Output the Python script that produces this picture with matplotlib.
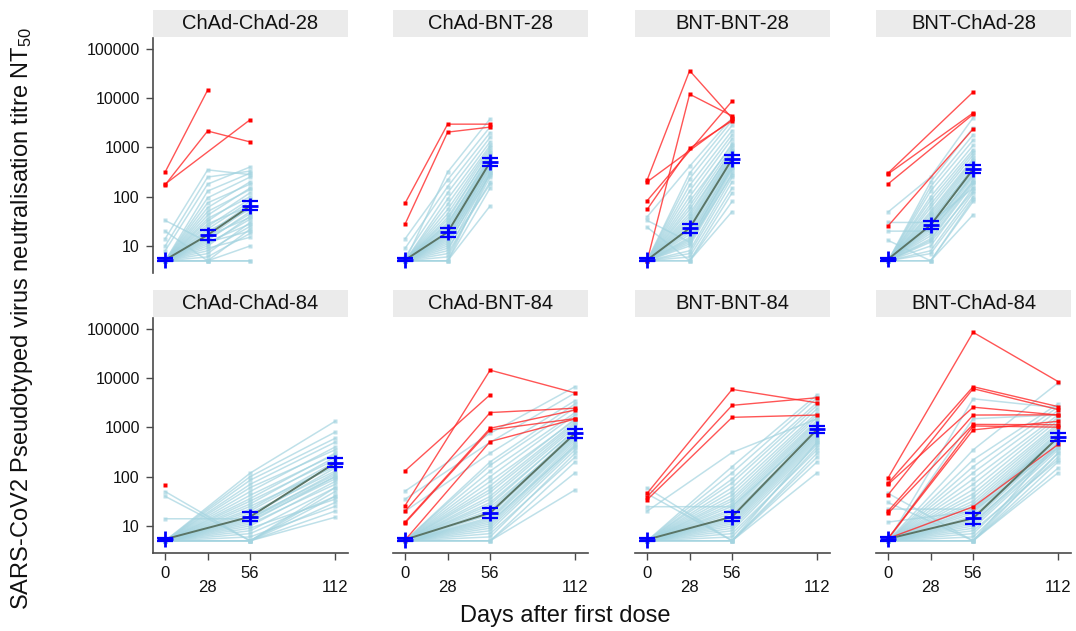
import numpy as np
import matplotlib
matplotlib.use('Agg')
import matplotlib.pyplot as plt

plt.rcParams['font.family'] = ['Liberation Sans', 'DejaVu Sans']
plt.rcParams['mathtext.fontset'] = 'custom'
plt.rcParams['mathtext.rm'] = 'Liberation Sans'
plt.rcParams['mathtext.default'] = 'rm'

nan = np.nan

# ---------------- data ----------------
panel_titles = ['ChAd-ChAd-28', 'ChAd-BNT-28', 'BNT-BNT-28', 'BNT-ChAd-28',
                'ChAd-ChAd-84', 'ChAd-BNT-84', 'BNT-BNT-84', 'BNT-ChAd-84']
days_28 = [0, 28, 56]
days_84 = [0, 56, 112]
x_ticks = [0, 28, 56, 112]
x_tick_labels = ['0', '\n28', '56', '\n112']
y_ticks = [10, 100, 1000, 10000, 100000]
y_tick_labels = ['10', '100', '1000', '10000', '100000']

# light-blue individual participants (no prior infection)
cc28_d0 = [5,5,5,5,5,5,5,5,5,5, 5,5,5,5,5,5,5,5,5,5, 5,5,5,5,5,5,5,8,10,14, 20,33]
cc28_d1 = [5,5,5,6,7,8,9,10,11,12, 13,14,15,16,18,20,22,25,28,32, 36,42,50,60,75,95,130,180,250,350, 5,12]
cc28_d2 = [10,5,22,18,30,25,15,40,35,28, 50,45,60,38,70,55,80,90,65,120, 100,150,140,200,180,250,300,400,330,280, 5,20]

cb28_d0 = [5,5,5,5,5,5,5,5,5,5, 5,5,5,5,5,5,5,5,5,5, 5,5,5,5,5,5,5,6,9,14, 5,5]
cb28_d1 = [5,5,6,7,8,9,10,11,12,13, 14,15,16,17,18,20,22,24,26,28, 30,34,38,45,55,70,90,120,160,220, 5,315]
cb28_d2 = [150,65,250,200,300,180,350,280,400,320, 450,380,500,420,550,480,600,520,650,700, 580,800,750,900,1000,1100,1300,1600,2000,2600, 300,3800]

bb28_d0 = [5,5,5,5,5,5,5,5,5,5, 5,5,5,5,5,5,5,5,5,5, 5,5,5,5,5,5,5,5,5,24, 33,39]
bb28_d1 = [5,5,6,7,8,10,11,12,13,14, 15,17,19,21,23,25,28,31,35,40, 46,55,65,80,100,130,170,230,300,5, 12,415]
bb28_d2 = [80,50,150,200,250,300,350,280,420,380, 480,450,520,600,560,650,700,750,800,900, 850,1000,1200,1100,1500,1800,2200,2800,3500,120, 400,4000]

bc28_d0 = [5,5,5,5,5,5,5,5,5,5, 5,5,5,5,5,5,5,5,5,5, 5,5,5,5,5,5,5,5,13,20, 30,49]
bc28_d1 = [5,5,7,8,10,12,13,14,16,18, 20,22,24,26,28,30,33,36,40,45, 50,60,70,85,100,130,160,200,5,20, 30,250]
bc28_d2 = [43,80,100,120,150,130,180,200,220,250, 280,300,270,350,320,400,380,450,500,550, 600,700,800,900,1100,1400,1800,2500,90,200, 150,4000]

cc84_d0 = [5,5,5,5,5,5,5,5,5,5, 5,5,5,5,5,5,5,5,5,5, 5,5,5,5,5,5,5,5,5,14, 40,50]
cc84_d1 = [5,5,5,5,6,7,8,9,10,11, 12,13,14,15,16,18,20,22,25,28, 32,36,42,50,60,70,85,100,118,14, 5,5]
cc84_d2 = [15,20,30,50,25,40,60,35,80,70, 100,90,120,110,150,130,180,200,160,250, 220,300,280,400,350,500,600,800,1330,100, 60,40]

cb84_d0 = [5,5,5,5,5,5,5,5,5,5, 5,5,5,5,5,5,5,5,5,5, 5,5,5,5,5,5,5,5,5,20, 35,51]
cb84_d1 = [5,5,5,6,7,8,9,10,11,12, 13,14,15,17,19,21,24,27,30,35, 40,48,55,65,80,100,130,170,200,300, 500,760]
cb84_d2 = [54,120,200,300,250,350,400,450,500,420, 550,600,650,700,750,800,700,900,850,1000, 1100,1200,1300,1500,1400,1800,2000,2500,3000,3500, 5000,6700]

bb84_d0 = [5,5,5,5,5,5,5,5,5,5, 5,5,5,5,5,5,5,5,5,5, 5,5,5,5,5,5,5,5,24.6,45, 59,20]
bb84_d1 = [5,5,5,6,7,8,9,10,11,12, 13,14,15,16,18,20,22,25,28,32, 36,42,50,60,75,90,120,160,24.6,5, 5,310]
bb84_d2 = [120,200,300,400,350,450,500,550,600,650, 700,800,750,900,850,1000,1100,1200,1300,1400, 1600,1800,2000,2400,2800,3200,4000,4600,900,250, 500,1500]

bc84_d0 = [5,5,5,5,5,5,5,5,5,5, 5,5,5,5,5,5,5,5,5,5, 5,5,5,5,5,5,5,5,5,5, 12,22,30,46]
bc84_d1 = [5,5,5,6,7,8,9,10,11,12, 13,14,16,18,20,22,25,28,32,38, 45,55,70,90,120,160,220,350,3800,1500, 20,22,5,5]
bc84_d2 = [120,150,200,250,300,220,350,400,450,380, 500,550,600,650,700,750,800,900,1000,1100, 1200,1400,1600,1800,2200,2600,3000,8000,2500,1800, 400,600,500,300]

# red participants (prior infection); nan = no sample at that visit
cc28_red = [[316, 14500, nan], [174, 2150, 1290], [180, nan, 3640]]
cb28_red = [[74, 2960, 2960], [28, 2040, 2580]]
bb28_red = [[218, 36000, 3900], [5, 12000, 4350], [83, nan, 8700], [55, 960, 3470], [200, nan, 3700]]
bc28_red = [[302, nan, 13300], [290, nan, 5000], [182, nan, 4700], [25.6, nan, 2360]]
cc84_red = [[68, nan, nan]]
cb84_red = [[132, 4600, nan], [26, 14500, 5000], [20, 2000, 2450], [12, 960, 2250],
            [11.5, 890, 1510], [5.2, 515, 1480]]
bb84_red = [[46, 5900, 3150], [39, 2800, 4000], [34, 1600, 1780]]
bc84_red = [[95, 85000, 8500], [74, 6700, 2640], [43, 6100, 2300], [70, 2570, 1780],
            [20, 1780, 1800], [18, 1150, 1130], [5.6, 1070, 1010], [5.6, 890, 1330],
            [5.6, 24.5, 450]]

# geometric means with 95% CI
cc28_gm = [5.2, 16.7, 65];  cc28_lo = [4.9, 13.5, 53];  cc28_hi = [5.6, 21, 80]
cb28_gm = [5.2, 19, 505];   cb28_lo = [4.9, 15.5, 420]; cb28_hi = [5.6, 23.5, 610]
bb28_gm = [5.2, 23, 580];   bb28_lo = [4.9, 18.5, 490]; bb28_hi = [5.6, 28.5, 690]
bc28_gm = [5.4, 26.5, 360]; bc28_lo = [5.0, 22, 300];   bc28_hi = [5.8, 32, 430]
cc84_gm = [5.4, 15.4, 190]; cc84_lo = [5.0, 12.5, 155]; cc84_hi = [5.8, 19, 235]
cb84_gm = [5.3, 18.4, 760]; cb84_lo = [4.9, 14.5, 620]; cb84_hi = [5.7, 23, 930]
bb84_gm = [5.3, 15.4, 910]; bb84_lo = [4.9, 12.5, 770]; bb84_hi = [5.7, 19, 1080]
bc84_gm = [5.5, 14.3, 630]; bc84_lo = [5.0, 11, 520];   bc84_hi = [6.0, 18.5, 760]

panels = [
    (days_28, (cc28_d0, cc28_d1, cc28_d2), cc28_red, cc28_gm, cc28_lo, cc28_hi),
    (days_28, (cb28_d0, cb28_d1, cb28_d2), cb28_red, cb28_gm, cb28_lo, cb28_hi),
    (days_28, (bb28_d0, bb28_d1, bb28_d2), bb28_red, bb28_gm, bb28_lo, bb28_hi),
    (days_28, (bc28_d0, bc28_d1, bc28_d2), bc28_red, bc28_gm, bc28_lo, bc28_hi),
    (days_84, (cc84_d0, cc84_d1, cc84_d2), cc84_red, cc84_gm, cc84_lo, cc84_hi),
    (days_84, (cb84_d0, cb84_d1, cb84_d2), cb84_red, cb84_gm, cb84_lo, cb84_hi),
    (days_84, (bb84_d0, bb84_d1, bb84_d2), bb84_red, bb84_gm, bb84_lo, bb84_hi),
    (days_84, (bc84_d0, bc84_d1, bc84_d2), bc84_red, bc84_gm, bc84_lo, bc84_hi),
]

# ---------------- layout ----------------
W, H = 1076, 631
fig = plt.figure(figsize=(W / 100, H / 100), dpi=100)
col_left = [153, 393, 635, 876]
row_top = [38, 318]
ax_w, ax_h, strip_h = 195, 235, 28

LB = '#a4d4e0'
RED = '#ff2a2a'
BLUE = '#0000ff'
SPINE = '#4a4a4a'

for idx, (days, blue, red, gm, lo, hi) in enumerate(panels):
    r, c = divmod(idx, 4)
    l, t = col_left[c], row_top[r]
    ax = fig.add_axes([l / W, 1 - (t + ax_h) / H, ax_w / W, ax_h / H])
    st = fig.add_axes([l / W, 1 - (t - 1) / H, ax_w / W, (strip_h - 1) / H])
    st.set_facecolor('#ebebeb')
    st.set_xticks([]); st.set_yticks([])
    for s in st.spines.values():
        s.set_visible(False)
    st.text(0.5, 0.5, panel_titles[idx], ha='center', va='center',
            fontsize=14.5, color='#111111', transform=st.transAxes)

    d0, d1, d2 = blue
    for a, b, cc in zip(d0, d1, d2):
        ax.plot(days, [a, b, cc], color=LB, lw=1.1, alpha=0.7,
                marker='s', ms=2.5, mec='none', zorder=1)

    for row in red:
        xs = [d for d, v in zip(days, row) if not np.isnan(v)]
        ys = [v for v in row if not np.isnan(v)]
        ax.plot(xs, ys, color=RED, lw=1.0, alpha=0.8, zorder=3)
        ax.plot(xs, ys, ls='none', marker='s', ms=3.2, color='#ff0000',
                mec='none', zorder=4)

    gm_a = np.array(gm); lo_a = np.array(lo); hi_a = np.array(hi)
    ax.plot(days, gm_a, color='#5a7566', lw=1.4, zorder=5)
    ax.errorbar(days, gm_a, yerr=[gm_a - lo_a, hi_a - gm_a], fmt='none',
                ecolor=BLUE, elinewidth=1.5, capsize=5.5, capthick=1.6, zorder=6)
    ax.plot(days, gm_a, ls='none', marker='+', ms=11, mew=2.0, color=BLUE, zorder=7)

    ax.set_yscale('log')
    ax.set_ylim(2.83, 165600)
    ax.set_xlim(-8, 120.5)
    ax.minorticks_off()
    ax.patch.set_alpha(0)
    for s in ['top', 'right']:
        ax.spines[s].set_visible(False)

    if c == 0:
        ax.spines['left'].set_color(SPINE)
        ax.spines['left'].set_linewidth(1.2)
        ax.set_yticks(y_ticks)
        ax.set_yticklabels(y_tick_labels)
        ax.tick_params(axis='y', length=5, width=1.0, color=SPINE, pad=4.5,
                       labelsize=11.5, labelcolor='#111111')
    else:
        ax.spines['left'].set_visible(False)
        ax.tick_params(axis='y', left=False, labelleft=False)
        ax.set_yticks([])

    if r == 1:
        ax.spines['bottom'].set_color(SPINE)
        ax.spines['bottom'].set_linewidth(1.2)
        ax.set_xticks(x_ticks)
        ax.set_xticklabels(x_tick_labels)
        ax.tick_params(axis='x', length=5, width=1.0, color=SPINE, pad=4,
                       labelsize=12, labelcolor='#111111')
        for lab in ax.get_xticklabels():
            lab.set_linespacing(1.0)
    else:
        ax.spines['bottom'].set_visible(False)
        ax.set_xticks([])

fig.text(565 / W, 1 - 616 / H, 'Days after first dose', ha='center', va='center',
         fontsize=17, color='#111111')
fig.text(22 / W, 1 - 318 / H,
         'SARS-CoV2 Pseudotyped virus neutralisation titre NT$_{50}$',
         ha='center', va='center', rotation=90, fontsize=17, color='#111111')

fig.savefig('out.png', dpi=100)
